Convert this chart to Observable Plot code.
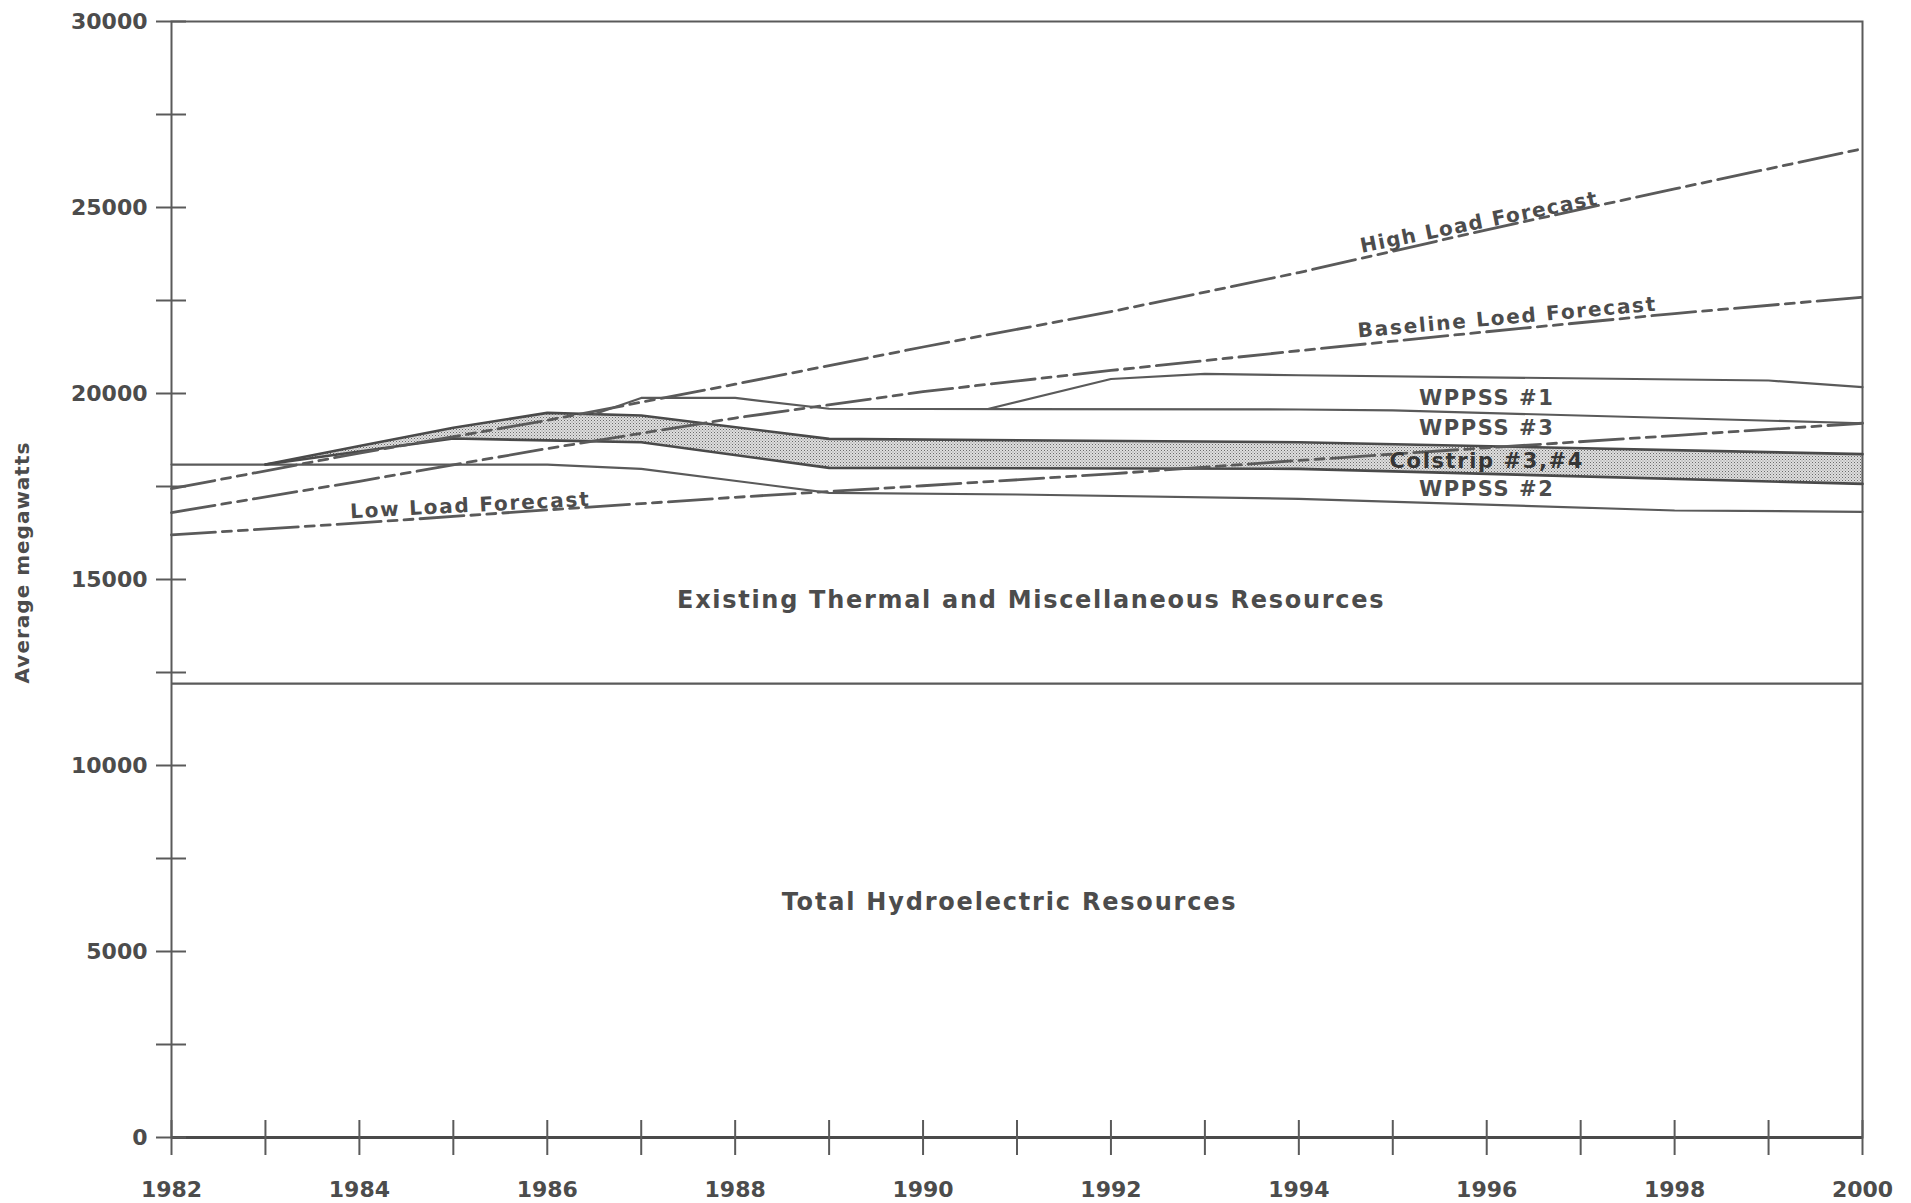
<!DOCTYPE html>
<html>
<head>
<meta charset="utf-8">
<script src="https://cdn.jsdelivr.net/npm/d3@7"></script>
<script src="https://cdn.jsdelivr.net/npm/@observablehq/plot@0.6"></script>
<style>
  html, body { margin: 0; padding: 0; background: #fff; overflow: hidden; }
  svg { display: block; }
</style>
</head>
<body>
<div id="chart"></div>
<script>
// ---------- Data ----------
const xTickYears = [1982,1983,1984,1985,1986,1987,1988,1989,1990,1991,1992,1993,1994,1995,1996,1997,1998,1999,2000];
const xLabelYears = [1982,1984,1986,1988,1990,1992,1994,1996,1998,2000];
const yTickValues = [0,2500,5000,7500,10000,12500,15000,17500,20000,22500,25000,27500,30000];
const yLabelValues = [0,5000,10000,15000,20000,25000,30000];

// Total hydroelectric resources (flat)
const hydroTopMW = 12200;

// Top of existing thermal & misc resources (= bottom of WPPSS #2)
const thermalYears = [1982, 1986, 1987, 1989, 1991, 1994, 1998, 2000];
const thermalTopMW = [18090, 18090, 17975, 17330, 17285, 17170, 16855, 16820];

// Colstrip #3,#4 band (bottom = top of WPPSS #2, top = bottom of WPPSS #3)
const colstripYears = [1983, 1984, 1985, 1986, 1987, 1989, 1994, 2000];
const colstripBottomMW = [18090, 18440, 18790, 18740, 18690, 18000, 17975, 17570];
const colstripTopMW = [18090, 18590, 19080, 19480, 19410, 18780, 18690, 18370];

// Top of WPPSS #3 (= bottom of WPPSS #1)
const wppss3Years = [1986.5, 1987, 1988, 1989, 1994, 1995, 2000];
const wppss3TopMW = [19440, 19880, 19880, 19590, 19570, 19545, 19200];

// Top of WPPSS #1
const wppss1Years = [1990.7, 1992, 1993, 1994, 1999, 2000];
const wppss1TopMW = [19590, 20390, 20530, 20490, 20350, 20170];

// Load forecasts
const forecastYears = [1982, 1984, 1986, 1988, 1990, 1992, 1994, 1996, 1998, 2000];
const highLoadMW = [17440, 18400, 19280, 20250, 21250, 22200, 23250, 24400, 25500, 26580];
const baselineLoadMW = [16800, 17640, 18520, 19340, 20050, 20620, 21150, 21660, 22150, 22590];
const lowLoadMW = [16200, 16520, 16870, 17210, 17520, 17840, 18200, 18540, 18870, 19200];

// Text labels
const regionLabels = ["Existing Thermal and Miscellaneous Resources", "Total Hydroelectric Resources"];
const regionLabelYear = [1991.15, 1990.92];
const regionLabelMW = [14450, 6320];

const plantLabels = ["WPPSS #1", "WPPSS #3", "Colstrip #3,#4", "WPPSS #2"];
const plantLabelYear = [1996, 1996, 1996, 1996];
const plantLabelMW = [19880, 19070, 18185, 17420];

const forecastLabels = ["High Load Forecast", "Baseline Loed Forecast", "Low Load Forecast"];
const forecastLabelYear = [1995.92, 1996.22, 1985.18];
const forecastLabelMW = [24600, 22040, 16990];

const yAxisTitle = "Average megawatts";

// ---------- Tables ----------
const series = (years, values) => years.map((year, i) => ({year, mw: values[i]}));
const thermal = series(thermalYears, thermalTopMW);
const colstrip = colstripYears.map((year, i) => ({year, lo: colstripBottomMW[i], hi: colstripTopMW[i]}));
const wppss3 = series(wppss3Years, wppss3TopMW);
const wppss1 = series(wppss1Years, wppss1TopMW);
const high = series(forecastYears, highLoadMW);
const base = series(forecastYears, baselineLoadMW);
const low = series(forecastYears, lowLoadMW);
const regionTbl = regionLabels.map((t, i) => ({t, year: regionLabelYear[i], mw: regionLabelMW[i]}));
const plantTbl = plantLabels.map((t, i) => ({t, year: plantLabelYear[i], mw: plantLabelMW[i]}));
const fcTbl = forecastLabels.map((t, i) => ({t, year: forecastLabelYear[i], mw: forecastLabelMW[i]}));

// ---------- Styles ----------
const INK = "#4c4c4c";
const LINE = "#5a5a5a";
const FONT = "DejaVu Sans";
const dash = "44,7,9,7,9,7";

const chart = Plot.plot({
  width: 1911,
  height: 1203,
  marginLeft: 171,
  marginRight: 49,
  marginTop: 21,
  marginBottom: 66,
  x: {domain: [1982, 2000]},
  y: {domain: [0, 30000]},
  style: {fontFamily: FONT, color: INK, background: "#fff", overflow: "visible"},
  marks: [
    // stippled Colstrip band
    Plot.areaY(colstrip, {x: "year", y1: "lo", y2: "hi", fill: "url(#stipple)", curve: "linear"}),
    // frame & axes
    Plot.frame({stroke: LINE, strokeWidth: 2}),
    Plot.ruleY([0], {stroke: "#4a4a4a", strokeWidth: 3}),
    Plot.axisY({ticks: yTickValues, tickSize: 30, dx: 15, tickFormat: () => "", stroke: LINE, strokeWidth: 2, label: null}),
    Plot.axisY({ticks: yLabelValues, tickSize: 0, tickPadding: 24, tickFormat: d => String(d),
      fontSize: 22, fontWeight: "bold", fill: INK, label: null}),
    Plot.axisX({ticks: xTickYears, tickSize: 35, dy: -17, tickFormat: () => "", stroke: LINE, strokeWidth: 2, label: null}),
    Plot.axisX({ticks: xLabelYears, tickSize: 0, tickPadding: 44, tickFormat: d => String(d),
      fontSize: 22, fontWeight: "bold", fill: INK, label: null}),
    // resource boundaries
    Plot.ruleY([hydroTopMW], {stroke: LINE, strokeWidth: 2.2}),
    Plot.line(thermal, {x: "year", y: "mw", stroke: LINE, strokeWidth: 2.2}),
    Plot.line(colstrip, {x: "year", y: "lo", stroke: "#4a4a4a", strokeWidth: 2.6}),
    Plot.line(colstrip, {x: "year", y: "hi", stroke: "#4a4a4a", strokeWidth: 2.6}),
    Plot.line(wppss3, {x: "year", y: "mw", stroke: LINE, strokeWidth: 2.2}),
    Plot.line(wppss1, {x: "year", y: "mw", stroke: LINE, strokeWidth: 2.2}),
    // load forecasts
    Plot.line(high, {x: "year", y: "mw", stroke: LINE, strokeWidth: 2.8, strokeDasharray: dash}),
    Plot.line(base, {x: "year", y: "mw", stroke: LINE, strokeWidth: 2.8, strokeDasharray: dash}),
    Plot.line(low, {x: "year", y: "mw", stroke: LINE, strokeWidth: 2.8, strokeDasharray: dash}),
    // labels
    Plot.text(regionTbl, {x: "year", y: "mw", text: "t", fontSize: 24, fontWeight: "bold", fill: INK,
      textAnchor: "middle", lineAnchor: "middle"}),
    Plot.text(plantTbl, {x: "year", y: "mw", text: "t", fontSize: 21, fontWeight: "bold",
      fill: d => d.t.startsWith("Colstrip") ? "#363636" : INK, textAnchor: "middle", lineAnchor: "middle"}),
    Plot.text(fcTbl.slice(0, 1), {x: "year", y: "mw", text: "t", rotate: -11.5, fontSize: 20, fontWeight: "bold", fill: INK}),
    Plot.text(fcTbl.slice(1, 2), {x: "year", y: "mw", text: "t", rotate: -5.2, fontSize: 20, fontWeight: "bold", fill: INK}),
    Plot.text(fcTbl.slice(2, 3), {x: "year", y: "mw", text: "t", rotate: -3, fontSize: 20, fontWeight: "bold", fill: INK}),
    // y axis title
    Plot.text([yAxisTitle], {frameAnchor: "left", textAnchor: "middle", dx: -149, dy: -17, rotate: -90,
      fontSize: 20, fontWeight: "bold", fill: INK})
  ]
});

// stipple pattern
const ns = "http://www.w3.org/2000/svg";
const defs = document.createElementNS(ns, "defs");
defs.innerHTML = `<pattern id="stipple" width="3" height="3" patternUnits="userSpaceOnUse">
  <rect width="3" height="3" fill="#dedede"/>
  <rect x="0" y="0" width="1" height="1" fill="#6a6a6a"/>
  <rect x="1.5" y="1.5" width="1" height="1" fill="#8a8a8a"/>
</pattern>`;
chart.insertBefore(defs, chart.firstChild);

document.getElementById("chart").appendChild(chart);

// letter spacing (purely stylistic)
chart.querySelectorAll("g[aria-label='text'] text").forEach(t => {
  const s = t.textContent;
  if (s === yAxisTitle) t.style.letterSpacing = "1px";
  else if (s === regionLabels[0]) t.style.letterSpacing = "1.7px";
  else if (s === regionLabels[1]) t.style.letterSpacing = "1.8px";
  else if (plantLabels.includes(s)) t.style.letterSpacing = "1.6px";
  else if (s === forecastLabels[0]) t.style.letterSpacing = "1.4px";
  else if (forecastLabels.includes(s)) t.style.letterSpacing = "1.8px";
});
</script>
</body>
</html>
